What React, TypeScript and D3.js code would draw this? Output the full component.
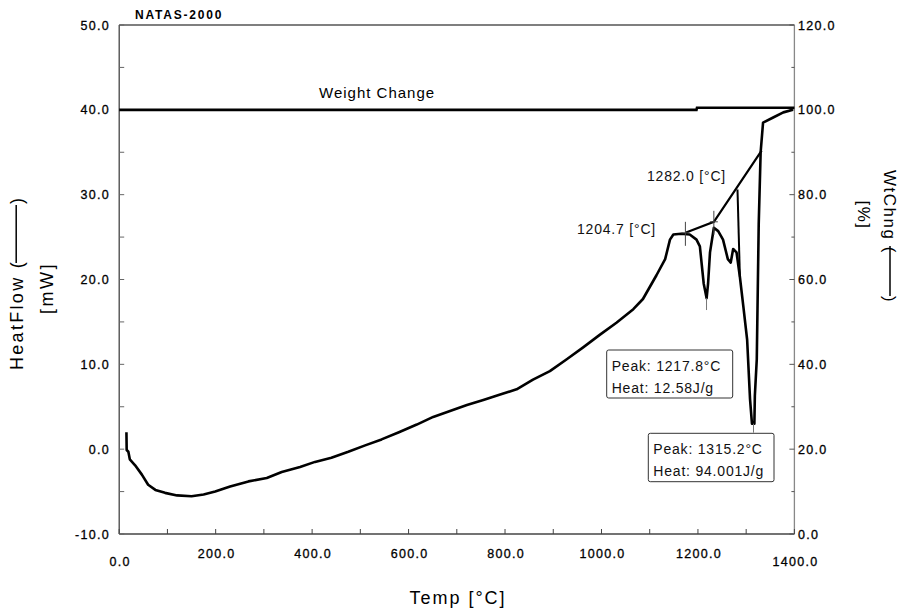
import { useEffect, useRef } from "react";
import * as d3 from "d3";

// heat flow trace (temp in °C, heat flow in mW)
const tempC = [15, 15.5, 19, 22, 33, 47, 60, 75, 95, 120, 150, 175, 199, 230, 268, 306, 337, 375, 406, 440, 475, 510, 544, 580, 617, 651, 686, 721, 755, 790, 824, 858, 893, 928, 962, 997, 1031, 1066, 1086, 1114, 1132, 1142, 1149, 1165, 1183, 1197, 1204, 1212, 1218, 1221, 1225, 1233, 1242, 1252, 1262, 1268, 1273, 1280, 1287, 1294, 1302, 1308, 1312, 1317, 1318, 1322, 1326, 1330, 1335, 1356, 1377, 1397];
const heatFlow = [2.0, -0.1, -0.3, -1.2, -1.9, -3.0, -4.2, -4.8, -5.15, -5.45, -5.55, -5.35, -5.0, -4.4, -3.8, -3.4, -2.7, -2.1, -1.5, -1.0, -0.3, 0.45, 1.15, 2.0, 2.9, 3.8, 4.5, 5.2, 5.8, 6.45, 7.05, 8.2, 9.2, 10.6, 12.0, 13.5, 14.9, 16.5, 17.7, 20.5, 22.4, 24.7, 25.3, 25.4, 25.3, 24.7, 23.9, 19.5, 17.8, 19.5, 23.2, 26.1, 25.7, 24.7, 22.4, 22.0, 23.6, 23.2, 20.3, 16.9, 12.9, 5.9, 3.0, 3.0, 6.3, 10.6, 26.5, 35.0, 38.5, 39.1, 39.7, 40.0];

// weight change trace (%)
const wtTemp = [0, 1197, 1198, 1400];
const wtPct = [100, 100, 100.5, 100.5];

// baseline / onset construction
const baseT = [1174, 1233, 1332];
const baseV = [25.5, 26.8, 35.2];
const onsetDropT = [1282, 1287];
const onsetDropV = [30.6, 20.3];
const onsetT = [1174, 1233];
const onsetV = [25.5, 26.8];

// peaks
const peakT = [1217.8, 1315.2];
const peakFrom = [17.8, 3.0];
const peakTo = [16.4, 1.95];

const leftTicks = [-10, 0, 10, 20, 30, 40, 50];
const rightTicks = [0, 20, 40, 60, 80, 100, 120];
const xTicks = [0, 200, 400, 600, 800, 1000, 1200, 1400];

const FONT = "'Liberation Sans', Arial, Helvetica, sans-serif";

const App = () => {
    const ref = useRef<SVGSVGElement | null>(null);

    useEffect(() => {
        const svg = d3.select(ref.current);
        svg.selectAll("*").remove();

        const margin = { top: 25, left: 119.2, right: 105.6, bottom: 79 };
        const W = 900, H = 613;
        const x0 = margin.left, x1 = W - margin.right, y0 = H - margin.bottom, y1 = margin.top;

        const x = d3.scaleLinear().domain([0, 1400]).range([x0, x1]);
        const yL = d3.scaleLinear().domain([-10, 50]).range([y0, y1]);
        const yR = d3.scaleLinear().domain([0, 120]).range([y0, y1]);
        const fmt = (v: number) => d3.format(".1f")(v).replace("\u2212", "-");

        // frame
        const frame = svg.append("g").attr("fill", "none").attr("stroke-width", 1.3);
        frame.append("line").attr("x1", x0).attr("x2", x1).attr("y1", y1).attr("y2", y1).attr("stroke", "#555");
        frame.append("line").attr("x1", x0).attr("x2", x1).attr("y1", y0).attr("y2", y0).attr("stroke", "#444");
        frame.append("line").attr("x1", x0).attr("x2", x0).attr("y1", y1).attr("y2", y0).attr("stroke", "#444");
        frame.append("line").attr("x1", x1).attr("x2", x1).attr("y1", y1).attr("y2", y0).attr("stroke", "#888");

        // ticks (inward)
        const tk = svg.append("g").attr("stroke-width", 1);
        d3.range(0, 1401, 100).forEach(t => {
            tk.append("line").attr("x1", x(t)).attr("x2", x(t)).attr("y1", y0).attr("y2", y0 - 5).attr("stroke", "#444");
        });
        d3.range(-10, 50.1, 5).forEach(v => {
            tk.append("line").attr("x1", x0).attr("x2", x0 + 5).attr("y1", yL(v)).attr("y2", yL(v)).attr("stroke", "#666");
        });
        d3.range(0, 120.1, 10).forEach(v => {
            const major = v % 20 === 0;
            tk.append("line").attr("x1", x1).attr("x2", x1 - (major ? 5 : 3)).attr("y1", yR(v)).attr("y2", yR(v)).attr("stroke", "#555");
        });

        // tick labels
        const lab = svg.append("g").attr("font-family", FONT).attr("font-size", 12.5).attr("letter-spacing", 1.3)
            .attr("fill", "#000").attr("stroke", "#000").attr("stroke-width", 0.3);
        lab.selectAll(".yl").data(leftTicks).enter().append("text")
            .attr("x", 110).attr("y", d => yL(d) + 4.5).attr("text-anchor", "end").text(d => fmt(d));
        lab.selectAll(".yr").data(rightTicks).enter().append("text")
            .attr("x", 798).attr("y", d => yR(d) + 4.5).text(d => fmt(d));
        lab.selectAll(".xl").data(xTicks).enter().append("text")
            .attr("x", d => x(d) + 1).attr("y", (d, i) => (i === 0 || i === xTicks.length - 1) ? 566 : 557.5)
            .attr("text-anchor", "middle").text(d => fmt(d));

        // title
        svg.append("text").attr("x", 135).attr("y", 18.5).attr("font-family", FONT).attr("font-weight", "bold")
            .attr("font-size", 12).attr("letter-spacing", 1.8).text("NATAS-2000");

        // axis titles
        svg.append("text").attr("x", 458).attr("y", 604).attr("text-anchor", "middle").attr("font-family", FONT)
            .attr("font-size", 18).attr("letter-spacing", 2).text("Temp [°C]");

        const lt = svg.append("g").attr("transform", "translate(22.7,283) rotate(-90)").attr("font-family", FONT).attr("font-size", 18);
        lt.append("text").attr("x", -87).attr("y", 0).attr("letter-spacing", 2.3).text("HeatFlow (");
        lt.append("line").attr("x1", 20).attr("x2", 78).attr("y1", -6.5).attr("y2", -6.5).attr("stroke", "#000").attr("stroke-width", 1.5);
        lt.append("text").attr("x", 79).attr("y", 0).text(")");
        svg.append("text").attr("transform", "translate(53,288) rotate(-90)").attr("text-anchor", "middle")
            .attr("font-family", FONT).attr("font-size", 18).attr("letter-spacing", 2.5).text("[mW]");

        const rt = svg.append("g").attr("transform", "translate(884,170) rotate(90)").attr("font-family", FONT).attr("font-size", 17);
        rt.append("text").attr("x", 0).attr("y", 0).attr("letter-spacing", 1.5).text("WtChng (");
        rt.append("line").attr("x1", 76).attr("x2", 126).attr("y1", -6).attr("y2", -6).attr("stroke", "#000").attr("stroke-width", 1.5);
        rt.append("text").attr("x", 126).attr("y", 0).text(")");
        svg.append("text").attr("transform", "translate(858,215) rotate(90)").attr("text-anchor", "middle")
            .attr("font-family", FONT).attr("font-size", 17).attr("letter-spacing", 1.5).text("[%]");

        // weight change
        const wtLine = d3.line<number>().x((d, i) => x(wtTemp[i])).y(d => yR(d)).curve(d3.curveLinear);
        svg.append("path").attr("d", wtLine(wtPct)).attr("fill", "none").attr("stroke", "#000").attr("stroke-width", 2.6);
        svg.append("text").attr("x", 319).attr("y", 98).attr("font-family", FONT).attr("font-size", 15)
            .attr("letter-spacing", 1).text("Weight Change");

        // baseline construction
        const bl = d3.line<number>().x((d, i) => x(baseT[i])).y(d => yL(d));
        svg.append("path").attr("d", bl(baseV)).attr("fill", "none").attr("stroke", "#000").attr("stroke-width", 2.2);
        const od = d3.line<number>().x((d, i) => x(onsetDropT[i])).y(d => yL(d));
        svg.append("path").attr("d", od(onsetDropV)).attr("fill", "none").attr("stroke", "#000").attr("stroke-width", 2);

        // heat flow
        const hf = d3.line<number>().x((d, i) => x(tempC[i])).y(d => yL(d)).curve(d3.curveLinear);
        svg.append("path").attr("d", hf(heatFlow)).attr("fill", "none").attr("stroke", "#000")
            .attr("stroke-width", 2.6).attr("stroke-linejoin", "round");

        // onset crosses
        onsetT.forEach((t, i) => {
            svg.append("line").attr("x1", x(t)).attr("x2", x(t)).attr("y1", yL(onsetV[i]) - 11).attr("y2", yL(onsetV[i]) + 13)
                .attr("stroke", "#444").attr("stroke-width", 1);
            svg.append("line").attr("x1", x(t) - 4).attr("x2", x(t) + 4).attr("y1", yL(onsetV[i])).attr("y2", yL(onsetV[i]))
                .attr("stroke", "#444").attr("stroke-width", 1);
        });

        // peak drop lines
        peakT.forEach((t, i) => {
            svg.append("line").attr("x1", x(t)).attr("x2", x(t)).attr("y1", yL(peakFrom[i])).attr("y2", yL(peakTo[i]))
                .attr("stroke", "#777").attr("stroke-width", 1);
        });

        // onset labels
        const ann = svg.append("g").attr("font-family", FONT).attr("font-size", 14).attr("letter-spacing", 0.8).attr("fill", "#111");
        ann.append("text").attr("x", 577).attr("y", 234).text("1204.7 [°C]");
        ann.append("text").attr("x", 647).attr("y", 181).text("1282.0 [°C]");

        // peak boxes
        const boxes = [
            { x: 606.7, y: 350, w: 126, h: 48, l1: "Peak: 1217.8°C", l2: "Heat: 12.58J/g" },
            { x: 648.3, y: 433.3, w: 125.7, h: 48.4, l1: "Peak: 1315.2°C", l2: "Heat: 94.001J/g" },
        ];
        boxes.forEach(b => {
            ann.append("rect").attr("x", b.x).attr("y", b.y).attr("width", b.w).attr("height", b.h).attr("rx", 2)
                .attr("fill", "#fff").attr("stroke", "#333").attr("stroke-width", 1);
            ann.append("text").attr("x", b.x + 5).attr("y", b.y + 20.5).text(b.l1);
            ann.append("text").attr("x", b.x + 5).attr("y", b.y + 42.5).text(b.l2);
        });
    }, []);

    return (
        <div>
            <svg ref={ref} width={900} height={613} style={{ position: "absolute", left: 0, top: 0, background: "#fff" }} />
        </div>
    );
};

export default App;
